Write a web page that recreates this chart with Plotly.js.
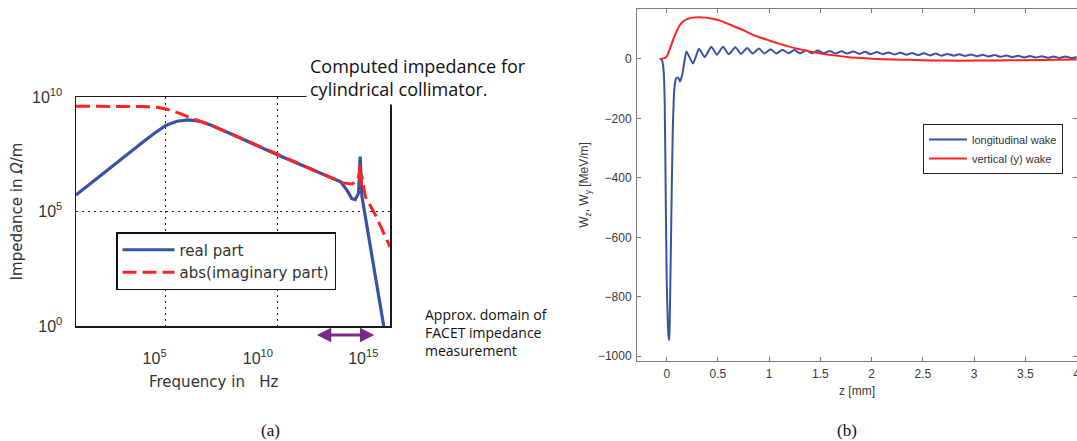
<!DOCTYPE html>
<html>
<head>
<meta charset="utf-8">
<script src="https://cdn.plot.ly/plotly-3.0.1.min.js"></script>
<style>html,body{margin:0;padding:0;background:#fff;}#chart{width:1077px;height:441px;}</style>
</head>
<body>
<div id="chart"></div>
<script>
// ---------- Panel (a): impedance, values as log10 ----------
const realLogF = [1.0, 2.0, 3.0, 4.0, 4.5, 5.0, 5.5, 6.0, 6.5, 7.0, 8.0, 9.0, 10.0, 11.0, 12.0, 12.8, 13.1, 13.3, 13.45, 13.6, 13.67, 13.71, 13.75, 14.72];
const realLogZ = [5.72, 6.5, 7.3, 8.05, 8.42, 8.76, 8.94, 9.0, 8.95, 8.78, 8.35, 7.9, 7.47, 7.05, 6.63, 6.3, 5.9, 5.56, 5.52, 5.8, 7.4, 5.9, 5.65, 0.0];
const imagLogF = [1.0, 2.0, 3.0, 4.0, 4.6, 5.0, 5.5, 6.0, 6.5, 7.0, 8.0, 9.0, 10.0, 11.0, 12.0, 12.5, 12.9, 13.3, 13.55, 13.64, 13.67, 13.7, 13.73, 13.9, 14.35, 15.0];
const imagLogZ = [9.6, 9.6, 9.6, 9.58, 9.55, 9.48, 9.33, 9.13, 8.95, 8.78, 8.35, 7.9, 7.47, 7.05, 6.63, 6.42, 6.25, 6.2, 6.35, 6.7, 7.0, 6.0, 6.6, 5.65, 4.85, 3.46];
const freqTickExp = [5, 10, 15];
const impTickExp = [0, 5, 10];
const facetDomainHz = [4.7e11, 2.0e14];

// ---------- Panel (b): wakes ----------
const zLong = [-0.06, -0.045, -0.03, -0.02, -0.01, 0.0, 0.01, 0.02, 0.025, 0.03, 0.04, 0.05, 0.06, 0.075, 0.09, 0.11, 0.13, 0.15, 0.17, 0.192, 0.257, 0.315, 0.37, 0.435, 0.49, 0.549, 0.605, 0.669, 0.725, 0.785, 0.84, 0.90, 0.955, 1.015, 1.07, 1.13, 1.19, 1.245, 1.30, 1.36, 1.42, 1.475, 1.53, 1.59, 1.65, 1.705, 1.76, 1.82, 1.88, 1.935, 1.99, 2.05, 2.11, 2.165, 2.22, 2.28, 2.34, 2.395, 2.45, 2.51, 2.57, 2.625, 2.68, 2.74, 2.80, 2.855, 2.91, 2.97, 3.03, 3.085, 3.14, 3.2, 3.26, 3.315, 3.37, 3.43, 3.49, 3.545, 3.60, 3.66, 3.72, 3.775, 3.83, 3.89, 3.95, 4.0];
const wLong = [0, -5, -40, -140, -450, -750, -880, -940, -945, -870, -650, -420, -230, -100, -66, -62, -76, -55, -15, 25, -15, 34, 6, 41, 14, 41, 16, 39, 17, 37, 18, 35, 18, 33, 18, 31, 19, 30, 19, 29, 19, 28, 19, 27, 18, 26, 18, 25, 17, 24, 16, 23, 16, 22, 15, 21, 14, 20, 13, 19, 12, 18, 11, 17, 11, 16, 10, 15, 9, 14, 8, 13, 7, 12, 6, 11, 5, 10, 5, 9, 4, 8, 3, 8, 3, 7];
const zVert = [-0.07, -0.03, 0.0, 0.02, 0.045, 0.07, 0.095, 0.13, 0.16, 0.2, 0.25, 0.31, 0.38, 0.45, 0.52, 0.62, 0.74, 0.87, 1.0, 1.12, 1.23, 1.36, 1.49, 1.63, 1.78, 1.9, 2.04, 2.2, 2.37, 2.6, 2.86, 3.2, 3.5, 3.8, 4.0];
const wVert = [0, 2, 8, 25, 47, 72, 92, 115, 126, 134, 139, 140, 139, 135, 129, 115, 98, 77, 62, 49, 38, 28, 19, 12, 6, 3, 0, -2, -3, -5, -6, -5, -4, -3, -2];
const wakeTicksY = [0, -200, -400, -600, -800, -1000];
const wakeTicksX = [0, 0.5, 1, 1.5, 2, 2.5, 3, 3.5, 4];

const pw = v => Math.pow(10, v);
const BLUE = '#3a52a6', RED = '#ff2222';
const fa = 'DejaVu Sans, sans-serif';
const fb = 'Liberation Sans, Arial, sans-serif';

const traces = [
  {x: realLogF.map(pw), y: realLogZ.map(pw), type: 'scatter', mode: 'lines', name: 'real part',
   line: {color: BLUE, width: 3.2}, xaxis: 'x', yaxis: 'y', legend: 'legend'},
  {x: imagLogF.map(pw), y: imagLogZ.map(pw), type: 'scatter', mode: 'lines', name: 'abs(imaginary part)',
   line: {color: RED, width: 3, dash: '14px,6px'}, xaxis: 'x', yaxis: 'y', legend: 'legend'},
  {x: zLong, y: wLong, type: 'scatter', mode: 'lines', name: 'longitudinal wake',
   line: {color: BLUE, width: 2, shape: 'spline', smoothing: 0.5}, xaxis: 'x2', yaxis: 'y2', legend: 'legend2'},
  {x: zVert, y: wVert, type: 'scatter', mode: 'lines', name: 'vertical (y) wake',
   line: {color: RED, width: 2, shape: 'spline', smoothing: 0.6}, xaxis: 'x2', yaxis: 'y2', legend: 'legend2'}
];

const W = 1077, H = 441;
const px = v => v / W, py = v => (H - v) / H;
// trailing padding so the "10^n" labels sit left of their tick, as in the original
const padCount = {5: 5, 10: 9, 15: 12};
const pad = n => '&nbsp;'.repeat(n);

const layout = {
  width: W, height: H,
  margin: {l: 0, r: 0, t: 0, b: 0},
  paper_bgcolor: '#fff', plot_bgcolor: '#fff',
  showlegend: true,
  xaxis: {
    type: 'log', domain: [px(76), px(390)], range: [1, 15], anchor: 'y',
    tickvals: freqTickExp.map(pw), ticktext: freqTickExp.map(e => '10<sup>' + e + '</sup>' + pad(padCount[e])),
    ticks: '', ticklabelstandoff: 17, ticklabeloverflow: 'allow',
    tickfont: {family: fb, size: 16, color: '#333'},
    showline: true, mirror: true, linecolor: '#1a1a1a', linewidth: 1.5,
    showgrid: true, gridcolor: '#222', gridwidth: 1, griddash: '2px,4px', zeroline: false
  },
  yaxis: {
    type: 'log', domain: [py(326), py(97)], range: [0, 10], anchor: 'x',
    tickvals: impTickExp.map(pw), ticktext: impTickExp.map(e => '10<sup>' + e + '</sup>'),
    ticks: '', ticklabelstandoff: 9,
    tickfont: {family: fb, size: 16, color: '#333'},
    showline: true, mirror: true, linecolor: '#1a1a1a', linewidth: 1.5,
    showgrid: true, gridcolor: '#222', gridwidth: 1, griddash: '2px,4px', zeroline: false,
    title: {text: 'Impedance in <i>Ω</i>/m', font: {family: fa, size: 15, color: '#333'}, standoff: 6}
  },
  xaxis2: {
    domain: [px(637), 1], range: [-0.29, 4.004], anchor: 'y2',
    tickvals: wakeTicksX, ticks: 'inside', ticklen: 4, tickcolor: '#777', tickwidth: 1,
    tickfont: {family: fb, size: 12, color: '#3a3a3a'}, ticklabelstandoff: 2,
    ticklabeloverflow: 'allow',
    showline: true, mirror: 'ticks', linecolor: '#7a7a7a', linewidth: 1,
    showgrid: false, zeroline: false,
    title: {text: 'z [mm]', font: {family: fb, size: 12, color: '#3a3a3a'}, standoff: 6}
  },
  yaxis2: {
    domain: [py(361), py(9)], range: [-1016, 168], anchor: 'x2',
    tickvals: wakeTicksY, ticks: 'inside', ticklen: 4, tickcolor: '#777', tickwidth: 1,
    tickfont: {family: fb, size: 12, color: '#3a3a3a'}, ticklabelstandoff: 2,
    showline: true, mirror: 'ticks', linecolor: '#7a7a7a', linewidth: 1,
    showgrid: false, zeroline: false,
    title: {text: 'W<sub>z</sub>, W<sub>y</sub> [MeV/m]', font: {family: fb, size: 12, color: '#3a3a3a'}, standoff: 6}
  },
  legend: {
    x: px(116), y: py(232), xanchor: 'left', yanchor: 'top',
    bgcolor: '#fff', bordercolor: '#111', borderwidth: 1.5,
    font: {family: fa, size: 15, color: '#333'}, itemwidth: 52, tracegroupgap: 0
  },
  legend2: {
    x: px(923), y: py(124), xanchor: 'left', yanchor: 'top',
    bgcolor: '#fff', bordercolor: '#222', borderwidth: 1,
    font: {family: fb, size: 11, color: '#333'}, itemwidth: 38
  },
  annotations: [
    {xref: 'paper', yref: 'paper', x: px(306), y: py(50), xanchor: 'left', yanchor: 'top', align: 'left',
     text: 'Computed impedance for<br>cylindrical collimator.', showarrow: false,
     bgcolor: '#fff', borderpad: 3, font: {family: 'Open Sans, sans-serif', size: 18, color: '#111'}},
    {xref: 'paper', yref: 'paper', x: px(423), y: py(303), xanchor: 'left', yanchor: 'top', align: 'left',
     text: 'Approx. domain of<br>FACET impedance<br>measurement', showarrow: false,
     bgcolor: '#fff', font: {family: 'Open Sans, sans-serif', size: 14, color: '#111'}},
    {xref: 'paper', yref: 'paper', x: px(214), y: py(382), xanchor: 'center', yanchor: 'middle',
     text: 'Frequency in&nbsp;&nbsp; Hz', showarrow: false, font: {family: fa, size: 15, color: '#333'}},
    {xref: 'x', yref: 'paper', x: Math.log10(facetDomainHz[1]), y: py(335),
     axref: 'x', ayref: 'pixel', ax: Math.log10(facetDomainHz[0]), ay: 0,
     text: '', showarrow: true, arrowside: 'end+start', arrowhead: 2, arrowsize: 0.9, arrowwidth: 3.2,
     arrowcolor: '#7b2a8c', standoff: 0, startstandoff: 0},
    {xref: 'paper', yref: 'paper', x: px(270), y: py(430), xanchor: 'center', yanchor: 'middle',
     text: '(a)', showarrow: false, font: {family: 'Liberation Serif, serif', size: 17, color: '#111'}},
    {xref: 'paper', yref: 'paper', x: px(847), y: py(430), xanchor: 'center', yanchor: 'middle',
     text: '(b)', showarrow: false, font: {family: 'Liberation Serif, serif', size: 17, color: '#111'}}
  ]
};

Plotly.newPlot('chart', traces, layout, {staticPlot: true, displayModeBar: false});
</script>
</body>
</html>
